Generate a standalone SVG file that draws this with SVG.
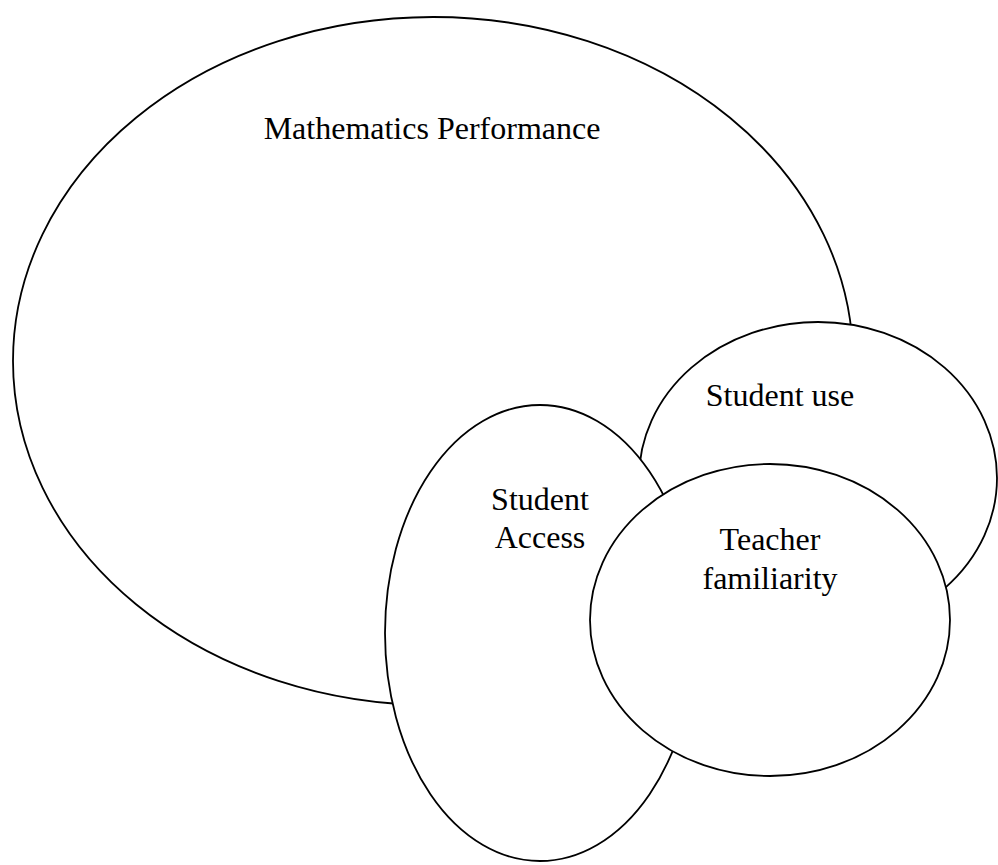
<svg xmlns="http://www.w3.org/2000/svg" width="998" height="865" viewBox="0 0 998 865">
<style>
.e{fill:#fff;stroke:#000;stroke-width:1.8}
.t{font-family:"Liberation Serif","Times New Roman",serif;font-size:32px;fill:#000;text-anchor:middle}
</style>
<rect width="998" height="865" fill="#fff"/>
<g id="connectors"></g>
<g id="math">
<ellipse class="e" cx="433" cy="361" rx="420" ry="344"/>
<text class="t" x="432" y="139">Mathematics Performance</text>
</g>
<g id="use">
<ellipse class="e" cx="818" cy="478" rx="179" ry="156"/>
<text class="t" x="780" y="406">Student use</text>
</g>
<g id="access">
<ellipse class="e" cx="540" cy="633" rx="155" ry="228"/>
<text class="t" x="540" y="510">Student</text>
<text class="t" x="540" y="548">Access</text>
</g>
<g id="teacher">
<ellipse class="e" cx="770" cy="620" rx="180" ry="156"/>
<text class="t" x="770" y="550">Teacher</text>
<text class="t" x="770" y="589">familiarity</text>
</g>
</svg>
